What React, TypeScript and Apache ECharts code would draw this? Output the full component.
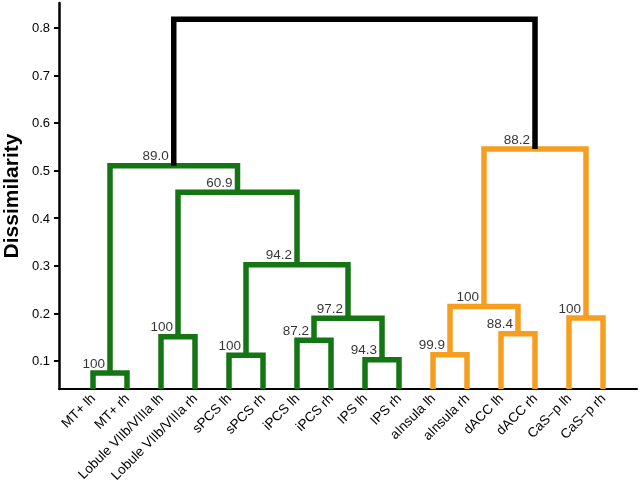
import React, { useEffect, useRef } from "react";
import * as echarts from "echarts";

// Leaves (left to right)
const leaves = [
  "MT+ lh", "MT+ rh",
  "Lobule VIIb/VIIIa lh", "Lobule VIIb/VIIIa rh",
  "sPCS lh", "sPCS rh",
  "iPCS lh", "iPCS rh",
  "IPS lh", "IPS rh",
  "aInsula lh", "aInsula rh",
  "dACC lh", "dACC rh",
  "CaS\u2212p lh", "CaS\u2212p rh",
];

// hclust-style merges: negative = leaf number (1-based), positive = merge row (1-based)
const mergeLeft = [-1, -3, -5, -7, -9, 4, 3, 2, 1, -11, -13, 10, -15, 12, 9];
const mergeRight = [-2, -4, -6, -8, -10, 5, 6, 7, 8, -12, -14, 11, -16, 13, 14];
const mergeHeight = [0.0746, 0.1509, 0.1118, 0.1433, 0.1026, 0.1895, 0.302, 0.4545, 0.51, 0.113, 0.157, 0.2143, 0.19, 0.545, 0.818];
const bootstrap = ["100", "100", "100", "87.2", "94.3", "97.2", "94.2", "60.9", "89.0", "99.9", "88.4", "100", "100", "88.2", ""];
const mergeGroup = ["green", "green", "green", "green", "green", "green", "green", "green", "green", "orange", "orange", "orange", "orange", "orange", "root"];

const yTicks = [0.1, 0.2, 0.3, 0.4, 0.5, 0.6, 0.7, 0.8];
const Y_MIN = 0.041;
const Y_MAX = 0.852;

const groupColors: Record<string, string> = {
  green: "#147514",
  orange: "#f59e1f",
  root: "#000000",
};

const FONT = "Liberation Sans, Arial, Helvetica, sans-serif";

export default function App() {
  const ref = useRef<HTMLDivElement>(null);

  useEffect(() => {
    if (!ref.current) return;
    const chart = echarts.init(ref.current, undefined, { renderer: "svg" });

    const nodeX: number[] = [];
    const pos = (id: number) => (id < 0 ? -id : nodeX[id - 1]);
    const hgt = (id: number) => (id < 0 ? Y_MIN : mergeHeight[id - 1]);

    const lineSeries: any[] = [];
    const labelData: any[] = [];
    mergeLeft.forEach((l, i) => {
      const r = mergeRight[i];
      const xl = pos(l);
      const xr = pos(r);
      const h = mergeHeight[i];
      nodeX.push((xl + xr) / 2);
      lineSeries.push({
        type: "line",
        data: [
          [xl, hgt(l)],
          [xl, h],
          [xr, h],
          [xr, hgt(r)],
        ],
        showSymbol: false,
        symbol: "none",
        silent: true,
        lineStyle: { color: groupColors[mergeGroup[i]], width: 5.5, join: "miter", cap: "butt" },
        z: 2,
      });
      if (bootstrap[i]) labelData.push([(xl + xr) / 2, h, bootstrap[i]]);
    });

    chart.setOption({
      animation: false,
      grid: { left: 59, right: 3, top: 3, bottom: 94, outerBoundsMode: "none", containLabel: false },
      xAxis: {
        type: "value",
        min: 0,
        max: leaves.length + 1,
        interval: 1,
        splitLine: { show: false },
        axisTick: { show: false },
        axisLine: { lineStyle: { color: "#000", width: 2 } },
        axisLabel: {
          rotate: 45,
          margin: 7,
          fontSize: 13.5,
          fontFamily: FONT,
          color: "#000",
          formatter: (v: number) => leaves[Math.round(v) - 1] ?? "",
          showMinLabel: true,
          showMaxLabel: true,
        },
      },
      yAxis: {
        type: "value",
        min: Y_MIN,
        max: Y_MAX,
        name: "Dissimilarity",
        nameLocation: "middle",
        nameGap: 37,
        nameTextStyle: { fontSize: 21, fontWeight: "bold", fontFamily: FONT, color: "#000" },
        splitLine: { show: false },
        axisLine: { show: true, lineStyle: { color: "#000", width: 2.5 } },
        axisTick: { show: true, length: 5, lineStyle: { color: "#000", width: 2 }, customValues: yTicks },
        axisLabel: {
          margin: 9,
          fontSize: 13,
          fontFamily: FONT,
          color: "#000",
          customValues: yTicks,
          formatter: (v: number) => v.toFixed(1),
        },
      },
      series: [
        ...lineSeries,
        {
          type: "scatter",
          data: labelData,
          symbolSize: 2,
          itemStyle: { color: "transparent" },
          silent: true,
          z: 3,
          label: {
            show: true,
            position: [-4, -2],
            align: "right",
            verticalAlign: "bottom",
            fontSize: 13.5,
            fontFamily: FONT,
            color: "#000",
            formatter: (p: any) => p.value[2],
          },
        },
      ],
    });

    return () => chart.dispose();
  }, []);

  return <div ref={ref} style={{ position: "fixed", left: 0, top: 0, width: 640, height: 483 }} />;
}
